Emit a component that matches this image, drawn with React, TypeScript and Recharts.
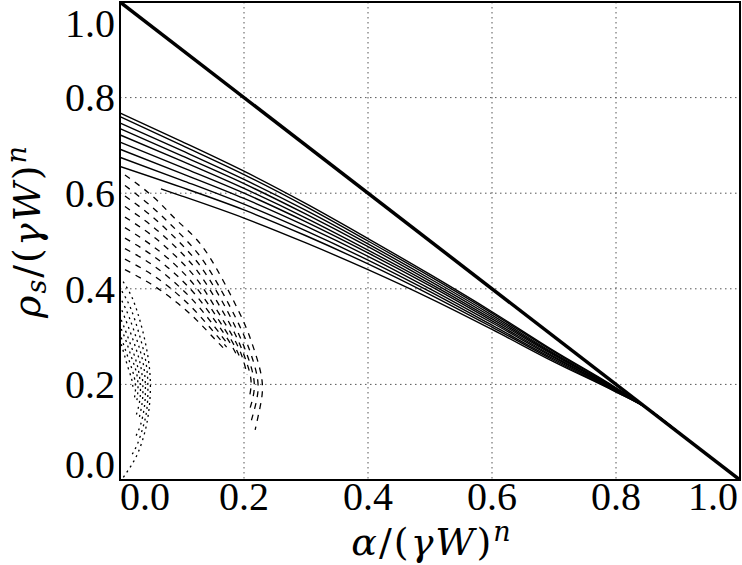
import { LineChart, Line, XAxis, YAxis, CartesianGrid, ReferenceArea } from "recharts";

const TICKS = [0, 0.2, 0.4, 0.6, 0.8, 1.0];

// thick reference line
const diagX = [0, 1];
const diagY = [1, 0];

// solid branches (x shared, one y list per curve)
const solidX = [0, 0.1, 0.2, 0.3, 0.4, 0.5, 0.6, 0.7, 0.8, 0.85, 0.92, 1.0];
const solidLastX = [0.066, 0.1, 0.2, 0.3, 0.4, 0.5, 0.6, 0.7, 0.8, 0.85, 0.92, 1.0];
const solidY = [
  [0.768, 0.708, 0.646, 0.578, 0.505, 0.43, 0.352, 0.27, 0.193, 0.15, 0.08, 0],
  [0.76, 0.7, 0.639, 0.572, 0.5, 0.426, 0.349, 0.268, 0.192, 0.15, 0.08, 0],
  [0.747, 0.689, 0.629, 0.564, 0.494, 0.421, 0.345, 0.265, 0.191, 0.15, 0.08, 0],
  [0.735, 0.678, 0.62, 0.556, 0.488, 0.416, 0.341, 0.263, 0.19, 0.15, 0.08, 0],
  [0.722, 0.667, 0.61, 0.548, 0.481, 0.411, 0.337, 0.261, 0.189, 0.15, 0.08, 0],
  [0.707, 0.654, 0.6, 0.54, 0.475, 0.406, 0.333, 0.258, 0.188, 0.15, 0.08, 0],
  [0.692, 0.641, 0.589, 0.531, 0.468, 0.4, 0.329, 0.256, 0.187, 0.15, 0.08, 0],
  [0.675, 0.627, 0.577, 0.521, 0.46, 0.394, 0.324, 0.253, 0.186, 0.15, 0.08, 0],
  [0.656, 0.612, 0.565, 0.511, 0.452, 0.388, 0.32, 0.25, 0.185, 0.15, 0.08, 0],
];
const solidLastY = [0.609, 0.594, 0.548, 0.496, 0.44, 0.38, 0.315, 0.247, 0.184, 0.15, 0.08, 0];

// dashed branches, [x, y] points
const dashed = [
  [[0.008, 0.638], [0.054, 0.592], [0.091, 0.544], [0.129, 0.495], [0.166, 0.418], [0.198, 0.335], [0.215, 0.278], [0.229, 0.209], [0.226, 0.153], [0.218, 0.105]],
  [[0.008, 0.616], [0.05, 0.573], [0.09, 0.524], [0.128, 0.47], [0.162, 0.4], [0.192, 0.325], [0.21, 0.268], [0.222, 0.21], [0.22, 0.165], [0.212, 0.125]],
  [[0.008, 0.594], [0.05, 0.553], [0.09, 0.505], [0.127, 0.452], [0.16, 0.385], [0.188, 0.315], [0.205, 0.262], [0.216, 0.21], [0.214, 0.17], [0.207, 0.14]],
  [[0.008, 0.572], [0.05, 0.533], [0.09, 0.487], [0.126, 0.435], [0.158, 0.37], [0.185, 0.307], [0.201, 0.258], [0.211, 0.212], [0.209, 0.175]],
  [[0.008, 0.55], [0.05, 0.513], [0.09, 0.468], [0.125, 0.418], [0.156, 0.356], [0.182, 0.3], [0.197, 0.258], [0.205, 0.22]],
  [[0.008, 0.528], [0.05, 0.492], [0.09, 0.449], [0.124, 0.401], [0.155, 0.343], [0.179, 0.294], [0.193, 0.258]],
  [[0.008, 0.506], [0.05, 0.472], [0.09, 0.43], [0.124, 0.384], [0.154, 0.332], [0.176, 0.29], [0.188, 0.262]],
  [[0.008, 0.484], [0.05, 0.452], [0.09, 0.411], [0.124, 0.367], [0.153, 0.32], [0.174, 0.284]],
  [[0.008, 0.462], [0.05, 0.431], [0.09, 0.392], [0.124, 0.35], [0.153, 0.307], [0.172, 0.278]],
  [[0.008, 0.44], [0.05, 0.41], [0.09, 0.373], [0.124, 0.334], [0.152, 0.296], [0.17, 0.272]],
];

// dotted branches, [x, y] points
const dotted = [
  [[0.005, 0.415], [0.02, 0.38], [0.035, 0.32], [0.046, 0.25], [0.049, 0.19], [0.046, 0.14], [0.04, 0.1], [0.03, 0.06], [0.018, 0.03], [0.005, 0.005]],
  [[0.003, 0.395], [0.017, 0.36], [0.031, 0.305], [0.042, 0.245], [0.045, 0.19], [0.043, 0.145], [0.037, 0.11], [0.028, 0.075], [0.018, 0.05]],
  [[0.003, 0.375], [0.015, 0.34], [0.028, 0.29], [0.038, 0.24], [0.041, 0.19], [0.039, 0.15], [0.033, 0.115], [0.025, 0.09]],
  [[0.003, 0.355], [0.013, 0.322], [0.025, 0.278], [0.034, 0.234], [0.037, 0.19], [0.035, 0.155], [0.03, 0.125]],
  [[0.002, 0.335], [0.011, 0.305], [0.022, 0.265], [0.03, 0.228], [0.033, 0.19], [0.031, 0.16], [0.026, 0.135]],
  [[0.002, 0.316], [0.01, 0.29], [0.019, 0.255], [0.027, 0.222], [0.029, 0.19], [0.027, 0.165]],
  [[0.002, 0.298], [0.008, 0.275], [0.016, 0.245], [0.023, 0.215], [0.025, 0.19], [0.023, 0.17]],
  [[0.002, 0.284], [0.007, 0.262], [0.013, 0.235], [0.019, 0.21], [0.021, 0.19]],
];

const zip = (xs: number[], ys: number[]) => xs.map((x, i) => ({ x, y: ys[i] }));
const pairs = (p: number[][]) => p.map(([x, y]) => ({ x, y }));

const TICK_FONT = "Liberation Serif";
const MATH_FONT = "DejaVu Serif";
const it = { fontStyle: "italic" as const };

function XTick(props: any) {
  const { x, y, payload } = props;
  const v = payload.value;
  const anchor = v === 0 ? "start" : v === 1 ? "end" : "middle";
  return (
    <text x={x} y={y} dy={30} textAnchor={anchor} style={{ fontFamily: TICK_FONT, fontSize: 40, fill: "#000" }}>
      {v.toFixed(1)}
    </text>
  );
}

function YTick(props: any) {
  const { x, y, payload } = props;
  const v = payload.value;
  const dy = v === 1 ? 28 : v === 0 ? -2.5 : 13.8;
  return (
    <text x={x} y={y} dy={dy} textAnchor="end" style={{ fontFamily: TICK_FONT, fontSize: 40, fill: "#000" }}>
      {v.toFixed(1)}
    </text>
  );
}

function XLabel(props: any) {
  const vb = props.viewBox;
  return (
    <text x={vb.x + vb.width / 2 + 2} y={vb.y + 75} textAnchor="middle" style={{ fontFamily: MATH_FONT, fontSize: 38, fill: "#000", letterSpacing: 2 }}>
      <tspan style={it}>α</tspan>
      <tspan>/(</tspan>
      <tspan style={it}>γW</tspan>
      <tspan>)</tspan>
      <tspan style={{ ...it, fontSize: 27 }} dy={-14}>n</tspan>
    </text>
  );
}

function YLabel(props: any) {
  const vb = props.viewBox;
  const cx = 40;
  const cy = vb.y + vb.height / 2 - 10;
  return (
    <text x={cx} y={cy} transform={`rotate(-90 ${cx} ${cy})`} textAnchor="middle" style={{ fontFamily: MATH_FONT, fontSize: 38, fill: "#000", letterSpacing: 2 }}>
      <tspan style={it}>ρ</tspan>
      <tspan style={{ ...it, fontSize: 27 }} dy={6}>s</tspan>
      <tspan dy={-6}>/(</tspan>
      <tspan style={it}>γW</tspan>
      <tspan>)</tspan>
      <tspan style={{ ...it, fontSize: 27 }} dy={-14}>n</tspan>
    </text>
  );
}

export default function App() {
  return (
    <div style={{ position: "absolute", left: 0, top: 0, width: 742, height: 565, background: "#fff" }}>
      <LineChart width={742} height={565} margin={{ top: 2, right: 2, bottom: 0, left: 0 }}>
        <CartesianGrid stroke="#555" strokeDasharray="1.5 3.5" />
        <XAxis
          type="number"
          dataKey="x"
          domain={[0, 1]}
          ticks={TICKS}
          allowDataOverflow
          height={85}
          axisLine={false}
          tickLine={false}
          tickSize={0}
          tickMargin={0}
          tick={<XTick />}
          label={<XLabel />}
        />
        <YAxis
          type="number"
          dataKey="y"
          domain={[0, 1]}
          ticks={TICKS}
          allowDataOverflow
          width={120}
          axisLine={false}
          tickLine={false}
          tickSize={0}
          tickMargin={5}
          tick={<YTick />}
          label={<YLabel />}
        />
        {dotted.map((p, i) => (
          <Line key={"p" + i} data={pairs(p)} dataKey="y" type="natural" stroke="#000" strokeWidth={1.3} strokeDasharray="2 4" dot={false} isAnimationActive={false} />
        ))}
        {dashed.map((p, i) => (
          <Line key={"d" + i} data={pairs(p)} dataKey="y" type="natural" stroke="#000" strokeWidth={1.3} strokeDasharray="6 6" dot={false} isAnimationActive={false} />
        ))}
        {solidY.map((ys, i) => (
          <Line key={"s" + i} data={zip(solidX, ys)} dataKey="y" type="monotone" stroke="#000" strokeWidth={1.4} dot={false} isAnimationActive={false} />
        ))}
        <Line data={zip(solidLastX, solidLastY)} dataKey="y" type="monotone" stroke="#000" strokeWidth={1.4} dot={false} isAnimationActive={false} />
        <Line data={zip(diagX, diagY)} dataKey="y" type="linear" stroke="#000" strokeWidth={3.5} dot={false} isAnimationActive={false} />
        <ReferenceArea x1={0} x2={1} y1={0} y2={1} fill="none" fillOpacity={0} stroke="#000" strokeWidth={2} ifOverflow="visible" />
      </LineChart>
    </div>
  );
}
